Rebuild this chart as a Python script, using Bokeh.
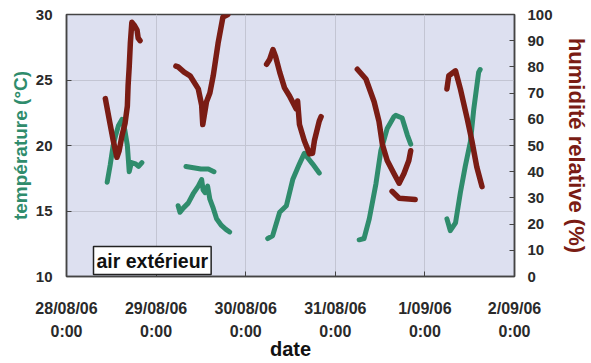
from bokeh.plotting import figure
from bokeh.models import Range1d, LinearAxis, FixedTicker, Label
from bokeh.embed import file_html
from bokeh.resources import INLINE

nan = float("nan")

# hours since 28/08/06 0:00 ; NaN separates logging periods
temp_hours = [10.9, 11.7, 12.5, 13.2, 13.9, 14.9, 15.6, 16.3, 16.8, 17.4, 18.5, 19.3, 20.2, nan,
              32.0, 34.0, 36.0, 38.0, 39.5, nan,
              29.9, 30.4, 31.2, 32.6, 33.9, 35.3, 36.2, 36.6, 37.1, 37.8, 38.4, 39.2, 40.2, 41.5, 42.7, 43.7, nan,
              53.9, 55.2, 57.1, 58.9, 60.6, 62.4, 63.7, 64.5, 65.9, 67.7, nan,
              78.4, 79.7, 81.1, 82.9, 84.2, 85.9, 87.7, 88.2, 89.9, 91.3, 92.2, nan,
              101.9, 102.8, 104.2, 105.5, 106.8, 108.2, 109.1, 110.4, 110.8]
temp_values = [17.2, 18.5, 20.0, 20.8, 21.5, 22.0, 21.2, 20.0, 18.0, 18.7, 18.6, 18.4, 18.7, nan,
               18.4, 18.3, 18.2, 18.2, 18.0, nan,
               15.4, 14.9, 15.2, 15.6, 16.3, 16.9, 17.4, 16.6, 16.4, 16.9, 15.9, 15.3, 14.4, 13.9, 13.6, 13.4, nan,
               12.9, 13.1, 14.9, 15.4, 17.4, 18.6, 19.4, 19.1, 18.6, 17.9, nan,
               12.8, 12.9, 14.4, 17.1, 19.6, 21.3, 22.2, 22.3, 22.1, 20.8, 20.1, nan,
               14.4, 13.5, 14.1, 16.4, 18.4, 20.3, 22.8, 25.6, 25.8]

hum_hours = [10.4, 11.7, 12.5, 13.5, 14.1, 14.9, 15.7, 16.3, 16.5, 16.8, 17.1, 17.5, 18.1, 18.9, 19.2, 19.7, nan,
             29.3, 29.9, 31.5, 33.1, 35.3, 36.2, 36.5, 37.5, 38.4, 39.3, 40.6, 41.9, 43.2, nan,
             53.6, 54.4, 55.3, 56.0, 57.1, 58.4, 59.7, 61.5, 61.9, 62.4, 63.7, 65.1, 65.9, 66.4, 67.7, 68.2, nan,
             77.9, 80.2, 82.4, 83.7, 84.6, 85.9, 87.7, 89.1, 90.4, 91.7, 92.2, nan,
             87.2, 89.1, 93.4, nan,
             101.9, 102.4, 104.2, 105.5, 107.3, 108.6, 109.9, 111.3]
hum_values = [67.9, 58.0, 52.0, 45.5, 48.0, 54.0, 58.6, 65.0, 72.9, 80.0, 89.0, 97.0, 96.0, 94.0, 91.0, 90.0, nan,
              80.3, 80.0, 78.0, 76.6, 71.6, 65.4, 58.0, 66.7, 70.0, 76.6, 89.0, 99.0, 100.0, nan,
              81.0, 82.8, 86.6, 84.0, 78.0, 72.0, 69.0, 64.0, 67.0, 58.0, 51.8, 46.8, 47.0, 51.8, 59.3, 61.0, nan,
              79.1, 75.4, 66.7, 59.2, 50.5, 44.3, 39.3, 35.6, 39.3, 44.3, 48.0, nan,
              32.5, 29.9, 29.4, nan,
              71.6, 76.6, 78.5, 71.6, 60.4, 51.7, 41.8, 34.3]

day_ticks = [0, 24, 48, 72, 96, 120]
day_labels = ["28/08/06\n0:00", "29/08/06\n0:00", "30/08/06\n0:00",
              "31/08/06\n0:00", "1/09/06\n0:00", "2/09/06\n0:00"]
temp_ticks = [10, 15, 20, 25, 30]
hum_ticks = [0, 10, 20, 30, 40, 50, 60, 70, 80, 90, 100]

GREEN = "#2f8c6c"
RED = "#7a1c14"
FONT = "Liberation Sans"

p = figure(width=591, height=363, output_backend="svg", toolbar_location=None,
           x_range=Range1d(0, 120), y_range=Range1d(10, 30),
           min_border_left=66, min_border_right=74, min_border_top=14, min_border_bottom=81)
p.extra_y_ranges = {"hum": Range1d(0, 100)}
p.background_fill_color = "#dde0f0"
p.border_fill_color = "white"
p.outline_line_color = "#444444"
p.outline_line_width = 1.5

p.line(temp_hours, temp_values, color=GREEN, line_width=5, line_join="round", line_cap="round")
p.line(hum_hours, hum_values, color=RED, line_width=5.5, line_join="round", line_cap="round",
       y_range_name="hum")

ax_r = LinearAxis(y_range_name="hum")
p.add_layout(ax_r, "right")

p.xaxis.ticker = FixedTicker(ticks=day_ticks)
p.xaxis.major_label_overrides = {t: l for t, l in zip(day_ticks, day_labels)}
p.yaxis[0].ticker = FixedTicker(ticks=temp_ticks)
ax_r.ticker = FixedTicker(ticks=hum_ticks)

for ax in [p.xaxis[0], p.yaxis[0], ax_r]:
    ax.axis_line_color = "#444444"
    ax.axis_line_width = 1.5
    ax.major_tick_in = 5
    ax.major_tick_out = 0
    ax.minor_tick_line_color = None
    ax.major_tick_line_color = "#444444"
    ax.major_label_text_font = FONT
    ax.major_label_text_font_style = "bold"
    ax.major_label_text_font_size = "15px"
    ax.major_label_text_color = "#2a2a2a"
    ax.axis_label_text_font = FONT
    ax.axis_label_text_font_style = "bold"

p.xaxis.major_label_text_font_size = "16px"
p.xaxis.major_label_text_line_height = 1.4
p.xaxis.major_label_standoff = 23
p.xaxis.axis_label = "date"
p.xaxis.axis_label_text_color = "#111111"
p.xaxis.axis_label_text_font_size = "20px"
p.xaxis.axis_label_standoff = -5

p.yaxis[0].major_label_standoff = 14
p.yaxis[0].axis_label = "température (°C)"
p.yaxis[0].axis_label_text_color = GREEN
p.yaxis[0].axis_label_text_font_size = "19px"
p.yaxis[0].axis_label_standoff = 2

ax_r.major_label_standoff = 13
ax_r.axis_label = "humidité relative (%)"
ax_r.axis_label_text_color = RED
ax_r.axis_label_text_font_size = "22px"
ax_r.axis_label_standoff = 8

p.xgrid.ticker = FixedTicker(ticks=day_ticks)
p.ygrid.ticker = FixedTicker(ticks=temp_ticks)
p.grid.grid_line_color = "#c3c5d3"
p.grid.grid_line_width = 1

lbl = Label(x=0, y=10, x_offset=27, y_offset=2, text="air extérieur", text_font=FONT,
            text_font_style="bold", text_font_size="19.5px", text_color="#111111",
            background_fill_color="white", border_line_color="#222222", border_line_width=1.5,
            padding=3)
p.add_layout(lbl)

open("out.html", "w").write(file_html(p, INLINE))
